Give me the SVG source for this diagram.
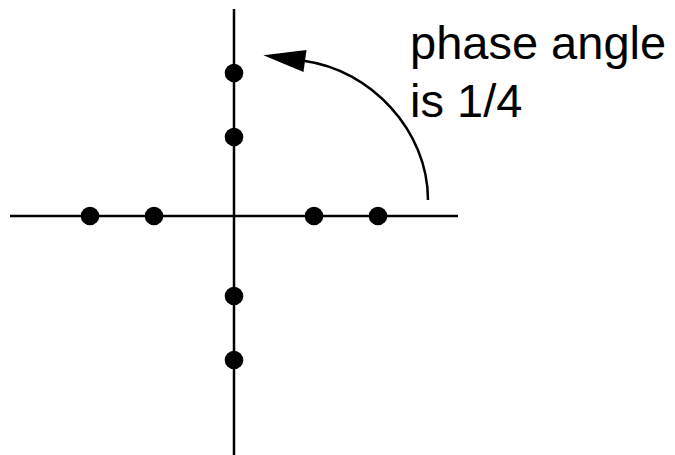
<svg xmlns="http://www.w3.org/2000/svg" width="675" height="455" viewBox="0 0 675 455">
  <style>
    .axis { stroke: #000; stroke-width: 2.5; fill: none; }
    .dot { fill: #000; }
    .arc { stroke: #000; stroke-width: 2.5; fill: none; }
    .lbl { font-family: "Liberation Sans", Arial, sans-serif; font-size: 47px; fill: #000; }
  </style>
  <defs>
    <marker id="ah" markerUnits="userSpaceOnUse" markerWidth="44" markerHeight="24" viewBox="0 -12 44 24" refX="0" refY="0" orient="auto" overflow="visible">
      <path d="M0,-11 L42,0 L0,11 Z" fill="#000"/>
    </marker>
  </defs>
  <rect width="675" height="455" fill="#fff"/>
  <g id="axes">
    <line class="axis" x1="234" y1="9" x2="234" y2="455"/>
    <line class="axis" x1="10" y1="216" x2="458" y2="216"/>
  </g>
  <g id="points">
    <circle class="dot" cx="234" cy="73" r="9.3"/>
    <circle class="dot" cx="234" cy="137" r="9.3"/>
    <circle class="dot" cx="234" cy="296" r="9.3"/>
    <circle class="dot" cx="234" cy="360" r="9.3"/>
    <circle class="dot" cx="90" cy="216" r="9.3"/>
    <circle class="dot" cx="154" cy="216" r="9.3"/>
    <circle class="dot" cx="314" cy="216" r="9.3"/>
    <circle class="dot" cx="378" cy="216" r="9.3"/>
  </g>
  <g id="connectors">
    <path class="arc" d="M428,200 C428,130 370,70 305,61" marker-end="url(#ah)"/>
  </g>
  <g id="label">
    <text class="lbl" x="410" y="59">phase angle</text>
    <text class="lbl" x="410" y="117">is 1/4</text>
  </g>
</svg>
